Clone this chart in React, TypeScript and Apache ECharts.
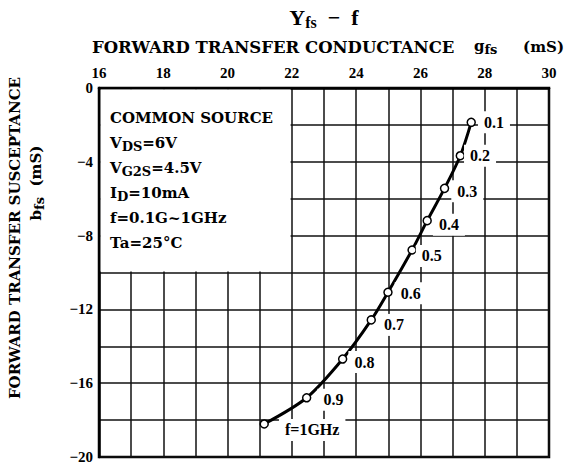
import React, { useEffect, useRef } from 'react';
import * as echarts from 'echarts';

// ---- data ----
const frequencyLabels = ['0.1', '0.2', '0.3', '0.4', '0.5', '0.6', '0.7', '0.8', '0.9', 'f=1GHz'];
const gfsValues = [27.58, 27.24, 26.75, 26.21, 25.74, 24.99, 24.47, 23.58, 22.46, 21.14];
const bfsValues = [-1.86, -3.67, -5.44, -7.19, -8.78, -11.07, -12.57, -14.69, -16.79, -18.21];
const conditionLines = [
  '{n|COMMON SOURCE}',
  '{n|V}{s|DS}{n|=6V}',
  '{n|V}{s|G2S}{n|=4.5V}',
  '{n|I}{s|D}{n|=10mA}',
  '{n|f=0.1G~1GHz}',
  '{n|Ta=25°C}',
];

// ---- styling (label nudges in pixels) ----
const labelOffsets = [
  [-3, 0], [-6, 0], [-3, 3], [-4, 4], [-6, 6], [-3, 1], [-3, 5], [-4, 3], [1, 2], [5, 6],
];

const SERIF = "'Liberation Serif', 'DejaVu Serif', serif";
const WIDE = "'DejaVu Serif', 'Liberation Serif', serif";

export default function App() {
  const ref = useRef<HTMLDivElement>(null);
  useEffect(() => {
    document.body.style.margin = '0';
    const chart = echarts.init(ref.current!, null, { renderer: 'svg' });
    const richWide = {
      n: { fontSize: 15, fontFamily: WIDE, fontWeight: 'bold', color: '#000', verticalAlign: 'top', lineHeight: 18 },
      s: { fontSize: 13, fontFamily: WIDE, fontWeight: 'bold', color: '#000', verticalAlign: 'bottom', lineHeight: 18, padding: [6, 0, 0, 0] },
    };
    const option: any = {
      animation: false,
      backgroundColor: '#fff',
      grid: { left: 99, right: 18, top: 88, bottom: 11, show: true, borderColor: '#000', borderWidth: 2.5, backgroundColor: 'transparent' },
      xAxis: {
        type: 'value', position: 'top', min: 16, max: 30, interval: 2,
        axisLine: { show: true, lineStyle: { color: '#000', width: 2.5 } },
        axisTick: { show: false },
        axisLabel: { fontSize: 15, fontFamily: SERIF, fontWeight: 'bold', color: '#000', margin: 8 },
        splitLine: { show: true, lineStyle: { color: '#111', width: 1.5 } },
        minorTick: { show: false, splitNumber: 2 },
        minorSplitLine: { show: true, lineStyle: { color: '#111', width: 1.5 } },
      },
      yAxis: {
        type: 'value', min: -20, max: 0, interval: 4,
        axisLine: { show: true, lineStyle: { color: '#000', width: 2.5 } },
        axisTick: { show: false },
        axisLabel: {
          fontSize: 15, fontFamily: SERIF, fontWeight: 'bold', color: '#000', margin: 6,
          formatter: (v: number) => (v === 0 ? '0' : '\u2212' + Math.abs(v)),
        },
        splitLine: { show: true, lineStyle: { color: '#111', width: 1.5 } },
        minorTick: { show: false, splitNumber: 2 },
        minorSplitLine: { show: true, lineStyle: { color: '#111', width: 1.5 } },
      },
      series: [
        {
          type: 'line',
          smooth: 0.3,
          symbol: 'circle',
          symbolSize: 8,
          showAllSymbol: true,
          lineStyle: { color: '#000', width: 3 },
          itemStyle: { color: '#fff', borderColor: '#000', borderWidth: 1.5 },
          z: 5,
          data: gfsValues.map((g, i) => ({
            value: [g, bfsValues[i]],
            label: { offset: labelOffsets[i] },
          })),
          label: {
            show: true, position: 'right', distance: 5,
            formatter: (p: any) => frequencyLabels[p.dataIndex],
            fontSize: 16, fontFamily: SERIF, fontWeight: 'bold', color: '#000',
            backgroundColor: '#fff', padding: [3, 6],
          },
          markArea: {
            silent: true,
            itemStyle: { color: '#fff', opacity: 1, borderWidth: 0 },
            label: { show: false },
            data: [[{ xAxis: 16.05, yAxis: -0.08 }, { xAxis: 21.96, yAxis: -9.95 }]],
          },
        },
      ],
      graphic: [
        {
          type: 'text', x: 324, y: 18, z: 10,
          style: {
            text: '{y|Y}{f|fs}{y|  \u2212  f}',
            align: 'center', verticalAlign: 'middle',
            rich: {
              y: { fontSize: 22, fontFamily: SERIF, fontWeight: 'bold', color: '#000', verticalAlign: 'top', lineHeight: 24 },
              f: { fontSize: 16, fontFamily: SERIF, fontWeight: 'bold', color: '#000', verticalAlign: 'bottom', lineHeight: 24, padding: [6, 0, 0, 0] },
            },
          },
        },
        {
          type: 'text', x: 92, y: 47, z: 10,
          style: {
            text: 'FORWARD TRANSFER CONDUCTANCE',
            fontSize: 16.5, fontFamily: WIDE, fontWeight: 'bold', fill: '#000',
            align: 'left', verticalAlign: 'middle',
          },
        },
        {
          type: 'text', x: 474, y: 47, z: 10,
          style: {
            text: '{n|g}{s|fs}', align: 'left', verticalAlign: 'middle', rich: richWide,
          },
        },
        {
          type: 'text', x: 564, y: 47, z: 10,
          style: {
            text: '(mS)', fontSize: 15, fontFamily: WIDE, fontWeight: 'bold', fill: '#000',
            align: 'right', verticalAlign: 'middle',
          },
        },
        {
          type: 'text', x: 15, y: 238, z: 10, rotation: Math.PI / 2,
          style: {
            text: 'FORWARD TRANSFER SUSCEPTANCE',
            fontSize: 15, fontFamily: WIDE, fontWeight: 'bold', fill: '#000',
            align: 'center', verticalAlign: 'middle',
          },
        },
        {
          type: 'text', x: 37, y: 183, z: 10, rotation: Math.PI / 2,
          style: {
            text: '{n|b}{s|fs}{n|  (mS)}', align: 'center', verticalAlign: 'middle', rich: richWide,
          },
        },
        ...conditionLines.map((t, i) => ({
          type: 'text', x: 110, y: 119 + i * 25, z: 10,
          style: { text: t, align: 'left', verticalAlign: 'middle', rich: richWide },
        })),
      ],
    };
    chart.setOption(option);
    return () => chart.dispose();
  }, []);
  return <div ref={ref} style={{ position: 'absolute', left: 0, top: 0, width: 567, height: 468 }} />;
}
